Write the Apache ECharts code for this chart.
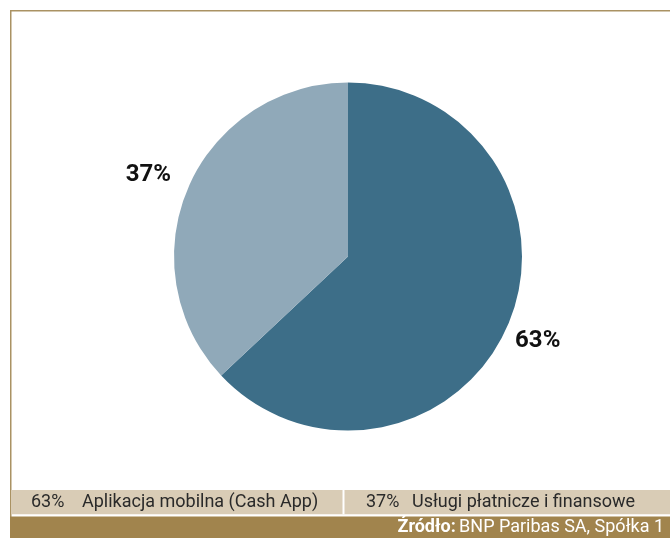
<!DOCTYPE html>
<html>
<head>
<meta charset="utf-8">
<script src="https://cdn.jsdelivr.net/npm/echarts@6/dist/echarts.min.js"></script>
<style>
html,body{margin:0;padding:0;background:#fff;}
#chart{width:670px;height:538px;}
</style>
</head>
<body>
<div id="chart"></div>
<script>
// ---- data ----
const categories = ['Aplikacja mobilna (Cash App)', 'Usługi płatnicze i finansowe'];
const values = [63, 37];
const sourceLabel = 'Źródło:';
const sourceText = 'BNP Paribas SA, Spółka 1';

// ---- style / layout ----
const colors = ['#3d6e88', '#90a9b9'];
const borderColor = '#aa9263';
const stripColor = '#d9ccb6';
const footerColor = '#a1844d';
const pctX = [31, 366];
const nameX = [82, 412];
const labelDx = [-3, -7];
const labelDy = [1, 2];

const chart = echarts.init(document.getElementById('chart'), null, {renderer: 'canvas'});

const graphics = [
  {type: 'rect', shape: {x: 10, y: 10, width: 660, height: 1.5}, style: {fill: borderColor}, silent: true},
  {type: 'rect', shape: {x: 10, y: 10, width: 1.5, height: 507}, style: {fill: borderColor}, silent: true},
  {type: 'rect', shape: {x: 11, y: 490, width: 659, height: 24.3}, style: {fill: stripColor}, silent: true},
  {type: 'rect', shape: {x: 342.5, y: 490, width: 2, height: 24.3}, style: {fill: '#ffffff'}, silent: true},
  {type: 'rect', shape: {x: 10, y: 516.5, width: 660, height: 21.5}, style: {fill: footerColor}, silent: true}
];
categories.forEach((c, i) => {
  graphics.push({type: 'text', x: pctX[i], y: 502.5, silent: true,
    style: {text: values[i] + '%', fill: '#2a2a2a', font: '400 18px Roboto', verticalAlign: 'middle', align: 'left'}});
  graphics.push({type: 'text', x: nameX[i], y: 502.5, silent: true,
    style: {text: c, fill: '#2a2a2a', font: '400 18px Roboto', verticalAlign: 'middle', align: 'left'}});
});
graphics.push({type: 'text', x: 664, y: 527.5, silent: true,
  style: {
    text: '{b|' + sourceLabel + '} {n|' + sourceText + '}',
    align: 'right', verticalAlign: 'middle',
    rich: {
      b: {fontFamily: 'Roboto', fontSize: 18, fontWeight: 'bold', fill: '#ffffff'},
      n: {fontFamily: 'Roboto', fontSize: 18, fontWeight: 'normal', fill: '#ffffff'}
    }
  }});

chart.setOption({
  animation: false,
  backgroundColor: '#ffffff',
  color: colors,
  graphic: graphics,
  series: [{
    type: 'pie',
    center: [348, 256.5],
    radius: 174,
    startAngle: 90,
    clockwise: true,
    avoidLabelOverlap: false,
    itemStyle: {borderWidth: 0},
    emphasis: {disabled: true},
    label: {
      show: true,
      position: 'outside',
      formatter: '{c}%',
      fontFamily: 'Roboto',
      fontSize: 24,
      fontWeight: 'bold',
      color: '#111111',
      distanceToLabelLine: 0
    },
    labelLine: {show: false, length: 36, length2: 0},
    labelLayout: function (p) {
      return {align: 'center', verticalAlign: 'middle', dx: labelDx[p.dataIndex], dy: labelDy[p.dataIndex]};
    },
    data: categories.map((c, i) => ({name: c, value: values[i]}))
  }]
});
</script>
</body>
</html>
